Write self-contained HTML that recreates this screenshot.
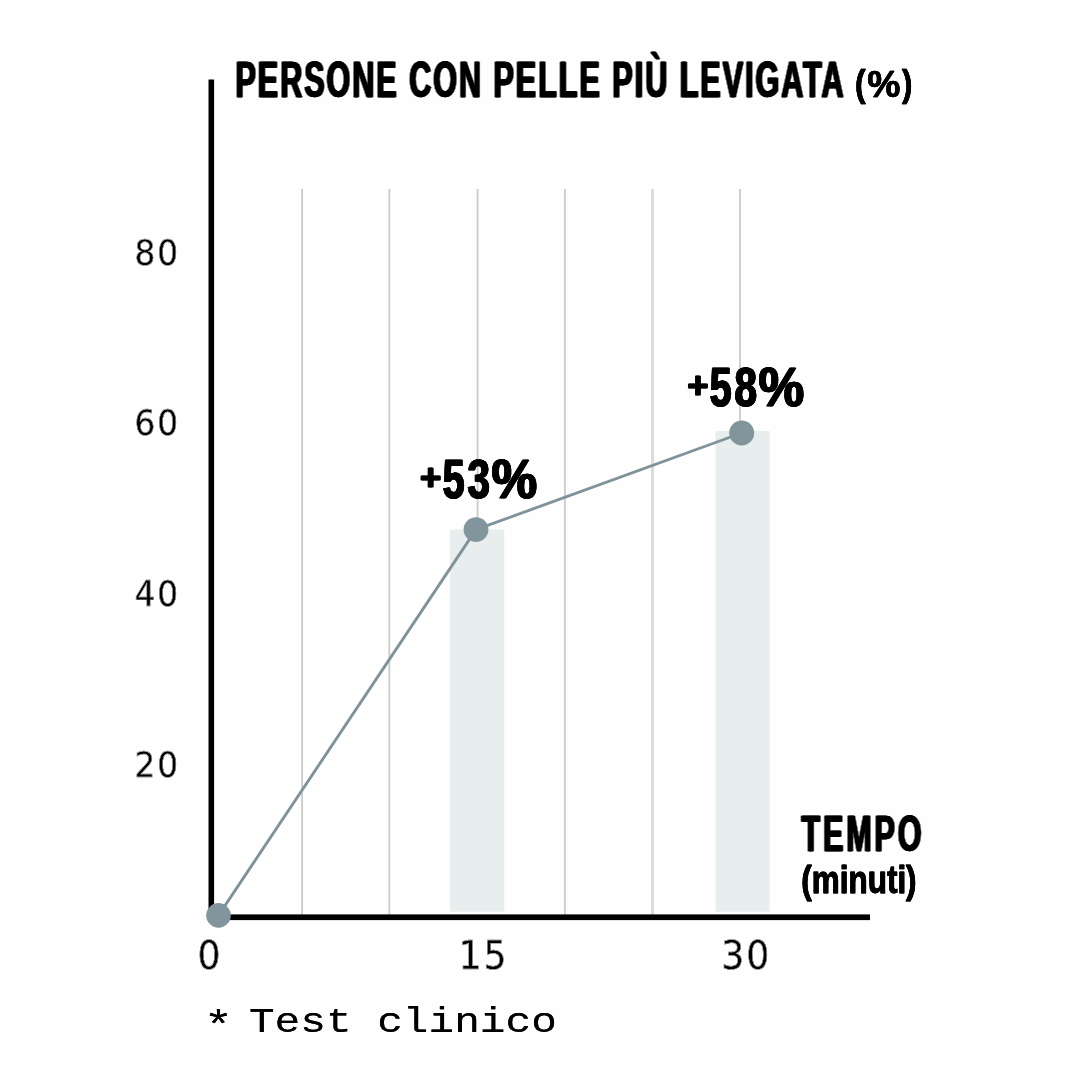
<!DOCTYPE html>
<html lang="it">
<head>
<meta charset="utf-8">
<title>Persone con pelle più levigata</title>
<style>
  html, body { margin: 0; padding: 0; background: #fefefe; }
  body { width: 1080px; height: 1080px; overflow: hidden; position: relative; }
  svg { position: absolute; left: 0; top: 0; display: block; }
  .cond { font-family: "Liberation Sans", sans-serif; font-weight: 700; fill: #000; stroke: #000; stroke-linejoin: round; }
  .fat1 { filter: drop-shadow(1px 0 0 #000) drop-shadow(-1px 0 0 #000); }
  .fat0 { filter: drop-shadow(0.01px 0 0 #000); }
  .fat2 { filter: drop-shadow(0.7px 0 0 #000) drop-shadow(-0.7px 0 0 #000); }
  .num { font-family: "DejaVu Sans", "Liberation Sans", sans-serif; font-weight: 400; fill: #000; stroke: #fff; stroke-width: 0.4; }
  .mono { font-family: "Liberation Mono", "DejaVu Sans Mono", monospace; font-weight: 400; fill: #000; }
</style>
</head>
<body>
<svg width="1080" height="1080" viewBox="0 0 1080 1080" xmlns="http://www.w3.org/2000/svg">
  <rect x="0" y="0" width="1080" height="1080" fill="#fefefe"/>

  <!-- grid lines -->
  <g stroke="#cbcbcb" stroke-width="1.8">
    <line x1="302.1" y1="189" x2="302.1" y2="915"/>
    <line x1="389.3" y1="189" x2="389.3" y2="915"/>
    <line x1="477.6" y1="189" x2="477.6" y2="530"/>
    <line x1="564.9" y1="189" x2="564.9" y2="915"/>
    <line x1="652.6" y1="189" x2="652.6" y2="915" stroke="#dadada" stroke-width="2.9"/>
    <line x1="740" y1="189" x2="740" y2="432"/>
  </g>

  <!-- bars -->
  <rect x="450" y="529.5" width="54.2" height="382.2" fill="#e7eeed"/>
  <rect x="715.5" y="431" width="54" height="480.7" fill="#e7eeed"/>

  <!-- axes -->
  <rect x="208.5" y="79.5" width="5.6" height="840" fill="#000"/>
  <rect x="208.5" y="914.4" width="661.5" height="5.7" fill="#000"/>

  <!-- data line -->
  <polyline points="218.5,915.4 476,529.6 741.7,433" fill="none" stroke="#80929a" stroke-width="2.9" stroke-linejoin="round"/>
  <circle cx="218.5" cy="915.4" r="12.3" fill="#82959c"/>
  <circle cx="476" cy="529.6" r="12.4" fill="#82959c"/>
  <circle cx="741.7" cy="433" r="12.5" fill="#82959c"/>

  <!-- title -->
  <text id="title" class="cond fat1" stroke-width="0.4" font-size="50" letter-spacing="3.3" transform="translate(235.5,97.2) scale(0.61,1)">PERSONE CON PELLE PIÙ LEVIGATA</text>
  <text id="pct" class="cond fat0" stroke-width="0.6" font-size="36.8" y="97" lengthAdjust="spacingAndGlyphs"><tspan x="855" dy="-1" textLength="10.6" lengthAdjust="spacingAndGlyphs">(</tspan><tspan x="867.2" dy="1" textLength="33.1" lengthAdjust="spacingAndGlyphs">%</tspan><tspan x="902.1" dy="-1" textLength="10.4" lengthAdjust="spacingAndGlyphs">)</tspan></text>

  <!-- value labels -->
  <text id="v53" class="cond fat2" stroke-width="0.6" font-size="56" y="497.6"><tspan x="420.6" dy="-7.4" font-size="37.5" textLength="21.2" lengthAdjust="spacingAndGlyphs">+</tspan><tspan x="443.2" dy="7.4" textLength="21.8" lengthAdjust="spacingAndGlyphs">5</tspan><tspan x="467.9" textLength="22.4" lengthAdjust="spacingAndGlyphs">3</tspan><tspan x="492.0" textLength="45.6" lengthAdjust="spacingAndGlyphs">%</tspan></text>
  <text id="v58" class="cond fat2" stroke-width="0.6" font-size="56" y="405.8"><tspan x="687.7" dy="-7.4" font-size="37.5" textLength="21.2" lengthAdjust="spacingAndGlyphs">+</tspan><tspan x="710.3" dy="7.4" textLength="21.8" lengthAdjust="spacingAndGlyphs">5</tspan><tspan x="735.0" textLength="22.4" lengthAdjust="spacingAndGlyphs">8</tspan><tspan x="759.1" textLength="45.6" lengthAdjust="spacingAndGlyphs">%</tspan></text>

  <!-- x axis title -->
  <text id="tempo" class="cond fat1" stroke-width="0.4" font-size="50" letter-spacing="4.7" transform="translate(801.5,851.2) scale(0.61,1)">TEMPO</text>
  <text id="minuti" class="cond fat0" stroke-width="0.8" font-size="38" transform="translate(801.3,893.2) scale(0.828,1)">(minuti)</text>

  <!-- y labels -->
  <g class="num fat0" font-size="36" letter-spacing="2.05">
    <text id="y80" transform="translate(134.6,264.7) scale(0.91,1)">80</text>
    <text id="y60" transform="translate(134.6,435.2) scale(0.91,1)">60</text>
    <text id="y40" transform="translate(134.6,606.1) scale(0.91,1)">40</text>
    <text id="y20" transform="translate(134.6,777) scale(0.91,1)">20</text>
  </g>

  <!-- x labels -->
  <g class="num fat0" font-size="39.8" letter-spacing="2.05">
    <text id="x0" transform="translate(197.6,969.4) scale(0.91,1)">0</text>
    <text id="x15" transform="translate(458.6,969.4) scale(0.91,1)">15</text>
    <text id="x30" transform="translate(721.3,969.4) scale(0.91,1)">30</text>
  </g>

  <!-- footnote -->
  <text id="foot" class="mono fat0" font-size="35" transform="translate(197.6,1031.7) scale(1.222,1)"><tspan dx="5" dy="7" font-size="40">*</tspan><tspan dx="-8" dy="-7"> Test clinico</tspan></text>
</svg>
</body>
</html>
